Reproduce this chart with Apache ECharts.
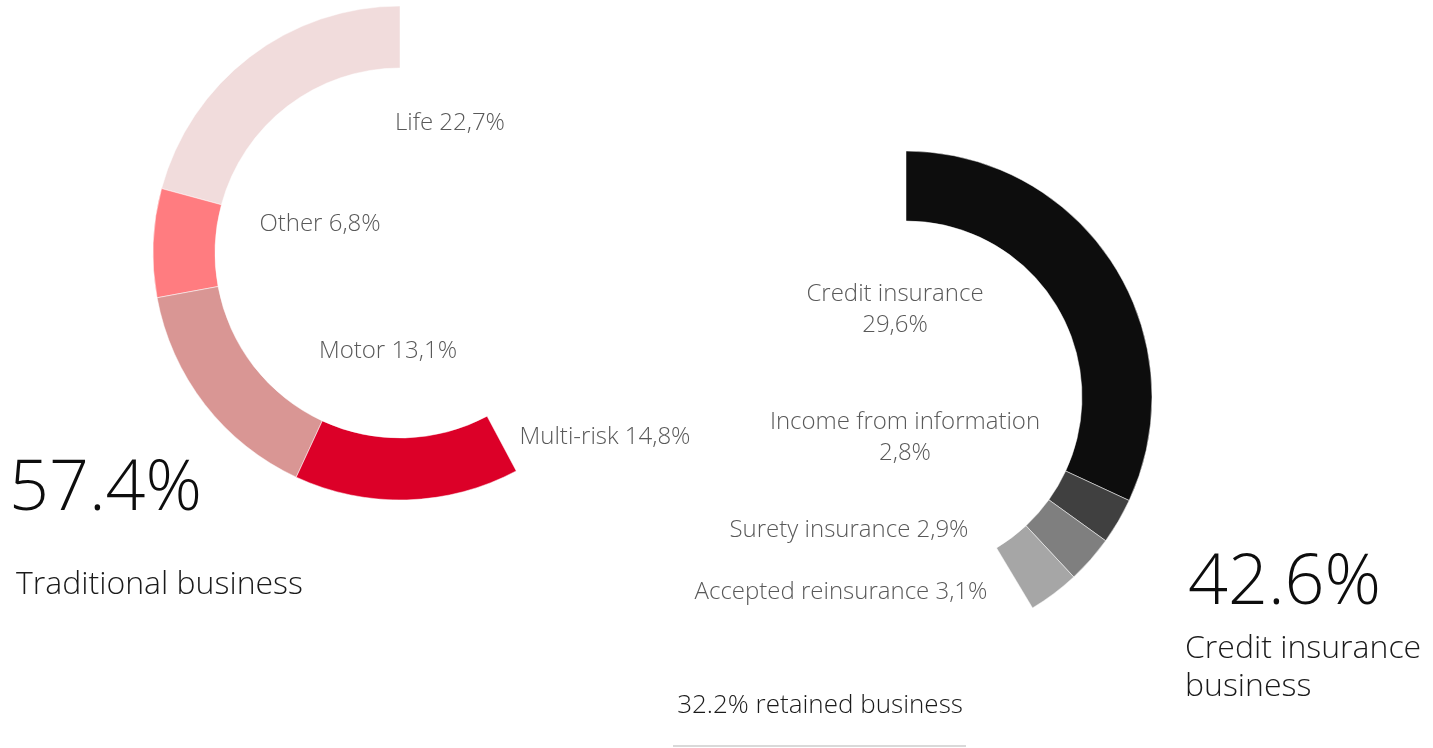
<!DOCTYPE html>
<html>
<head>
<meta charset="utf-8">
<title>Business mix</title>
<script src="https://cdn.jsdelivr.net/npm/echarts@6/dist/echarts.min.js"></script>
<style>
  html, body { margin: 0; padding: 0; background: #fff; }
  #chart { width: 1433px; height: 748px; }
</style>
</head>
<body>
<div id="chart"></div>
<script>
// traditional business (left ring, counter-clockwise from the top)
const leftNames = ['Life', 'Other', 'Motor', 'Multi-risk']
const leftValues = [22.7, 6.8, 13.1, 14.8] // printed shares
const leftArcs = [20.8, 7.1, 15.2, 14.7] // slice sizes as drawn in the picture (% of circle)
// credit insurance business (right ring, clockwise from the top)
const rightNames = ['Credit insurance', 'Income from information', 'Surety insurance', 'Accepted reinsurance']
const rightValues = [29.6, 2.8, 2.9, 3.1]
const rightArcShare = 41.4 // share of the full circle the right ring covers in the picture
const retainedShare = 32.2

const leftColors = ['#f1dcdc', '#ff7c80', '#d99694', '#dc0028']
const rightColors = ['#0d0d0d', '#404040', '#7f7f7f', '#a6a6a6']
const FONT = "'Open Sans', 'Noto Sans', sans-serif"

// label placement, in the same order as the names
const leftLabelPos = [[450, 123], [320, 224], [388, 351], [605, 437]]
const rightLabelPos = [[895, 310], [905, 438], [849, 530], [841, 592]]
const rightLabelWrap = [true, true, false, false]

const pct = v => v.toFixed(1).replace('.', ',') + '%'
const sum = arr => arr.reduce((a, b) => a + b, 0)

const leftTotal = sum(leftValues)
const rightTotal = sum(rightValues)
const rightGap = rightTotal * (100 - rightArcShare) / rightArcShare

function ringData (names, values, colors, gap) {
  let data = names.map((n, i) => ({
    name: n,
    value: values[i],
    itemStyle: { color: colors[i] }
  }))
  data.push({ name: '', value: gap, itemStyle: { color: 'rgba(0,0,0,0)', borderWidth: 0 } })
  return data
}

function labelText (name, value, wrap) {
  return name + (wrap ? '\n' : ' ') + pct(value)
}

let graphics = []
leftNames.forEach((n, i) => {
  graphics.push({
    type: 'text', x: leftLabelPos[i][0], y: leftLabelPos[i][1], silent: true,
    style: { text: labelText(n, leftValues[i], false), fill: '#595959', font: '300 24px ' + FONT, textAlign: 'center', textVerticalAlign: 'middle' }
  })
})
rightNames.forEach((n, i) => {
  graphics.push({
    type: 'text', x: rightLabelPos[i][0], y: rightLabelPos[i][1], silent: true,
    style: { text: labelText(n, rightValues[i], rightLabelWrap[i]), fill: '#595959', font: '300 24px ' + FONT, lineHeight: 31, textAlign: 'center', textVerticalAlign: 'middle' }
  })
})
graphics.push(
  { type: 'text', x: 9, y: 490, silent: true,
    style: { text: leftTotal.toFixed(1) + '%', fill: '#0d0d0d', font: '300 70px ' + FONT, textVerticalAlign: 'middle' } },
  { type: 'text', x: 16, y: 585, silent: true,
    style: { text: 'Traditional business', fill: '#1a1a1a', font: '300 32px ' + FONT, textVerticalAlign: 'middle' } },
  { type: 'text', x: 1188, y: 584, silent: true,
    style: { text: (100 - leftTotal).toFixed(1) + '%', fill: '#0d0d0d', font: '300 70px ' + FONT, textVerticalAlign: 'middle' } },
  { type: 'text', x: 1185, y: 668, silent: true,
    style: { text: 'Credit insurance\nbusiness', fill: '#1a1a1a', font: '300 32px ' + FONT, lineHeight: 38, textVerticalAlign: 'middle' } },
  { type: 'text', x: 820, y: 706, silent: true,
    style: { text: retainedShare.toFixed(1) + '% retained business', fill: '#1a1a1a', font: '300 26px ' + FONT, textAlign: 'center', textVerticalAlign: 'middle' } },
  { type: 'line', silent: true,
    shape: { x1: 673, y1: 746, x2: 966, y2: 746 },
    style: { stroke: '#d9d9d9', lineWidth: 2 } }
)

const chart = echarts.init(document.getElementById('chart'), null, { renderer: 'canvas' })
chart.setOption({
  backgroundColor: '#fff',
  animation: false,
  tooltip: { show: false },
  series: [
    {
      type: 'pie',
      center: [400, 253],
      radius: [185, 247],
      startAngle: 90,
      clockwise: false,
      silent: true,
      label: { show: false },
      labelLine: { show: false },
      itemStyle: { borderColor: '#fff', borderWidth: 0.5 },
      emphasis: { disabled: true },
      data: ringData(leftNames, leftArcs, leftColors, 100 - sum(leftArcs))
    },
    {
      type: 'pie',
      center: [906, 397],
      radius: [176, 246],
      startAngle: 90,
      clockwise: true,
      silent: true,
      label: { show: false },
      labelLine: { show: false },
      itemStyle: { borderColor: '#fff', borderWidth: 0.5 },
      emphasis: { disabled: true },
      data: ringData(rightNames, rightValues, rightColors, rightGap)
    }
  ],
  graphic: graphics
})
window.addEventListener('resize', () => chart.resize())
</script>
</body>
</html>
